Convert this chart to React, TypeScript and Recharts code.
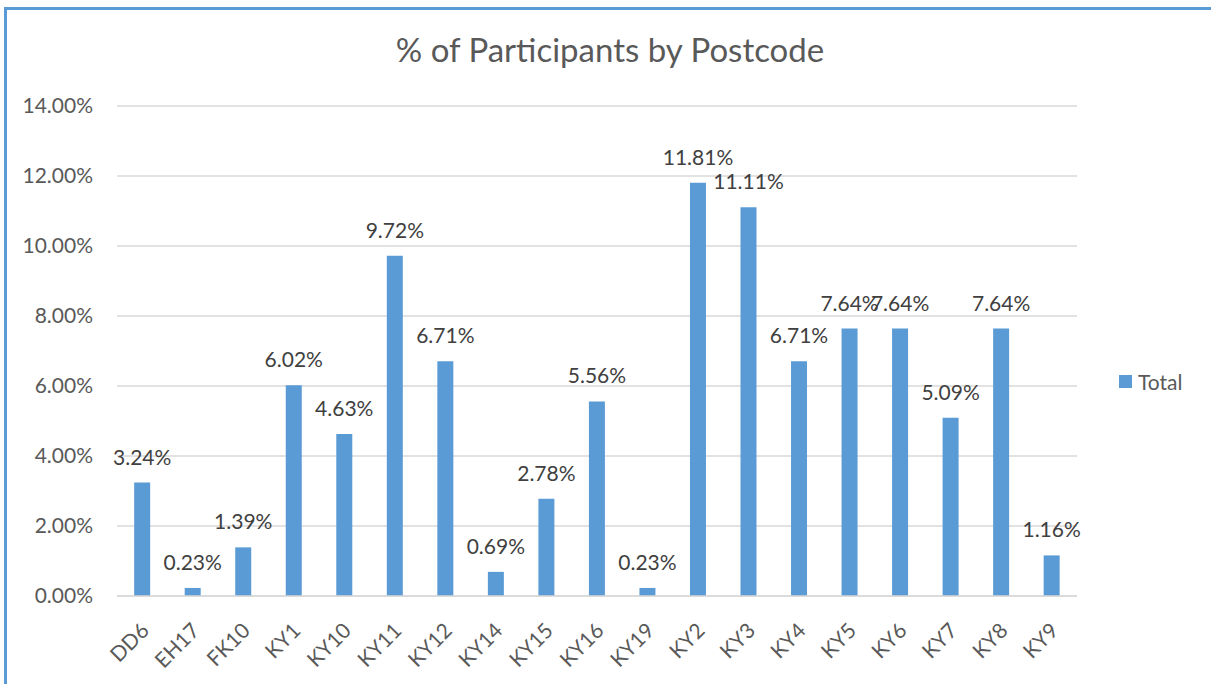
import { BarChart, Bar, XAxis, YAxis, CartesianGrid, LabelList } from 'recharts';

const postcodes = ['DD6', 'EH17', 'FK10', 'KY1', 'KY10', 'KY11', 'KY12', 'KY14', 'KY15', 'KY16', 'KY19', 'KY2', 'KY3', 'KY4', 'KY5', 'KY6', 'KY7', 'KY8', 'KY9'];
const totals = [3.24, 0.23, 1.39, 6.02, 4.63, 9.72, 6.71, 0.69, 2.78, 5.56, 0.23, 11.81, 11.11, 6.71, 7.64, 7.64, 5.09, 7.64, 1.16];
const yTicks = [0, 2, 4, 6, 8, 10, 12, 14];

const data = postcodes.map((name, i) => ({ name, Total: totals[i] }));

const FONT = 'Lato, "Open Sans", sans-serif';

function XTick(props: any) {
  const { x, y, payload } = props;
  return (
    <text
      transform={`translate(${x + 8},${y + 28}) rotate(-45)`}
      textAnchor="end"
      fill="#595959"
      fontSize={21}
      fontFamily={FONT}
    >
      {payload.value}
    </text>
  );
}

export default function App() {
  return (
    <div style={{ position: 'absolute', left: 0, top: 0, width: 1211, height: 684, background: '#fff', overflow: 'hidden' }}>
      <div style={{ position: 'absolute', left: 4, top: 7, width: 1220, height: 700, borderLeft: '3px solid #5b9bd5', borderTop: '3px solid #5b9bd5' }} />
      <div style={{ position: 'absolute', left: 0, top: 29, width: 1220, textAlign: 'center', fontFamily: FONT, fontSize: 33, color: '#595959' }}>
        % of Participants by Postcode
      </div>
      <div style={{ position: 'absolute', left: 1119, top: 369, display: 'flex', alignItems: 'center', fontFamily: FONT, fontSize: 21, color: '#595959' }}>
        <span style={{ width: 13, height: 13, background: '#5b9bd5', display: 'inline-block', marginRight: 6 }} />
        Total
      </div>
      <BarChart
        width={1211}
        height={684}
        data={data}
        margin={{ top: 106, right: 134, bottom: 18, left: 17 }}
        barCategoryGap="34%"
        style={{ position: 'absolute', left: 0, top: 0 }}
      >
        <CartesianGrid vertical={false} stroke="#d9d9d9" strokeWidth={1.5} />
        <XAxis
          dataKey="name"
          interval={0}
          height={70}
          tick={<XTick />}
          tickLine={false}
          axisLine={{ stroke: '#d9d9d9', strokeWidth: 1.5 }}
        />
        <YAxis
          domain={[0, 14]}
          ticks={yTicks}
          width={100}
          tickFormatter={(v: number) => v.toFixed(2) + '%'}
          tick={{ fill: '#595959', fontSize: 21, fontFamily: FONT }}
          tickLine={false}
          axisLine={false}
          tickSize={0}
          tickMargin={24}
        />
        <Bar dataKey="Total" fill="#5b9bd5" isAnimationActive={false}>
          <LabelList
            dataKey="Total"
            position="top"
            offset={18}
            formatter={(v: any) => Number(v).toFixed(2) + '%'}
            style={{ fill: '#404040', fontSize: 21, fontFamily: FONT }}
          />
        </Bar>
      </BarChart>
    </div>
  );
}
